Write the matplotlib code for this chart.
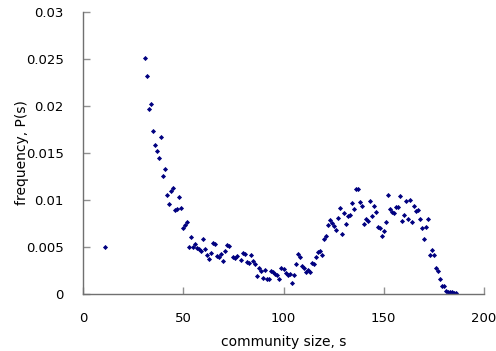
import numpy as np
import matplotlib.pyplot as plt

# community size s and frequency P(s)
size = [11, 31, 32, 33, 34, 35, 36, 37, 38, 39, 40, 41, 42, 43, 44, 45, 46, 47, 48, 49,
        50, 51, 52, 53, 54, 55, 56, 57, 58, 59, 60, 61, 62, 63, 64, 65, 66, 67, 68, 69,
        70, 71, 72, 73, 75, 76, 77, 79, 80, 81, 82, 83, 84, 85, 86, 87, 88, 89, 90, 91,
        92, 93, 94, 95, 96, 97, 98, 99, 100, 101, 102, 103, 104, 105, 106, 107, 108, 109, 110, 111,
        112, 113, 114, 115, 116, 117, 118, 119, 120, 121, 122, 123, 124, 125, 126, 127, 128, 129, 130, 131,
        132, 133, 134, 135, 136, 137, 138, 139, 140, 141, 142, 143, 144, 145, 146, 147, 148, 149, 150, 151,
        152, 153, 154, 155, 156, 157, 158, 159, 160, 161, 162, 163, 164, 165, 166, 167, 168, 169, 170, 171,
        172, 173, 174, 175, 176, 177, 178, 179, 180, 181, 182, 183, 184, 185, 186]
freq = [0.0050, 0.0251, 0.0232, 0.0197, 0.0202, 0.0173, 0.0158, 0.0152, 0.0145, 0.0167,
        0.0126, 0.0133, 0.0105, 0.0096, 0.0110, 0.0113, 0.0089, 0.0090, 0.0103, 0.0091,
        0.0070, 0.0073, 0.0077, 0.0050, 0.0061, 0.0050, 0.0053, 0.0049, 0.0048, 0.0046,
        0.0059, 0.0048, 0.0042, 0.0037, 0.0044, 0.0054, 0.0053, 0.0040, 0.0039, 0.0043,
        0.0035, 0.0046, 0.0052, 0.0051, 0.0039, 0.0038, 0.0040, 0.0036, 0.0044, 0.0043,
        0.0034, 0.0033, 0.0041, 0.0035, 0.0032, 0.0019, 0.0028, 0.0024, 0.0017, 0.0026,
        0.0016, 0.0016, 0.0025, 0.0023, 0.0021, 0.0020, 0.0016, 0.0028, 0.0027, 0.0022,
        0.0020, 0.0021, 0.0012, 0.0020, 0.0032, 0.0043, 0.0039, 0.0030, 0.0028, 0.0023,
        0.0026, 0.0023, 0.0033, 0.0032, 0.0039, 0.0045, 0.0046, 0.0042, 0.0058, 0.0062,
        0.0073, 0.0079, 0.0076, 0.0072, 0.0068, 0.0081, 0.0091, 0.0064, 0.0086, 0.0074,
        0.0083, 0.0084, 0.0097, 0.0090, 0.0112, 0.0112, 0.0098, 0.0094, 0.0074, 0.0080,
        0.0078, 0.0099, 0.0083, 0.0094, 0.0087, 0.0071, 0.0070, 0.0062, 0.0067, 0.0077,
        0.0105, 0.0090, 0.0087, 0.0086, 0.0093, 0.0093, 0.0104, 0.0078, 0.0084, 0.0099,
        0.0080, 0.0100, 0.0077, 0.0094, 0.0088, 0.0089, 0.0080, 0.0070, 0.0058, 0.0071,
        0.0080, 0.0042, 0.0047, 0.0041, 0.0028, 0.0024, 0.0016, 0.0008, 0.0008, 0.0003,
        0.0002, 0.0002, 0.0002, 0.0001, 0.0001]

xticks = [0, 50, 100, 150, 200]
yticks = [0, 0.005, 0.01, 0.015, 0.02, 0.025, 0.03]
ylabels = ['0', '0.005', '0.01', '0.015', '0.02', '0.025', '0.03']

fig = plt.figure(figsize=(4.96, 3.51), dpi=100)
ax = fig.add_axes([83 / 496, 1 - 294 / 351, 401 / 496, 282 / 351])

ax.plot(size, freq, linestyle='none', marker='D', markersize=2.6,
        color='#000080', markeredgewidth=0)

ax.set_xlim(0, 200)
ax.set_ylim(0, 0.03)
ax.set_xticks(xticks)
ax.set_yticks(yticks)
ax.set_yticklabels(ylabels)

for side in ['top', 'right']:
    ax.spines[side].set_visible(False)
for side in ['left', 'bottom']:
    ax.spines[side].set_color('#707070')
    ax.spines[side].set_linewidth(1.0)

ax.tick_params(direction='in', length=5, width=1, color='#909090',
               labelsize=9.5, labelcolor='black')
ax.tick_params(axis='y', pad=14)
ax.tick_params(axis='x', pad=13)

ax.set_xlabel('community size, s', fontsize=10)
ax.set_ylabel('frequency, P(s)', fontsize=10)
ax.xaxis.set_label_coords(0.5, -0.145)
ax.yaxis.set_label_coords(-0.135, 0.5)

fig.savefig('out.png', dpi=100)
